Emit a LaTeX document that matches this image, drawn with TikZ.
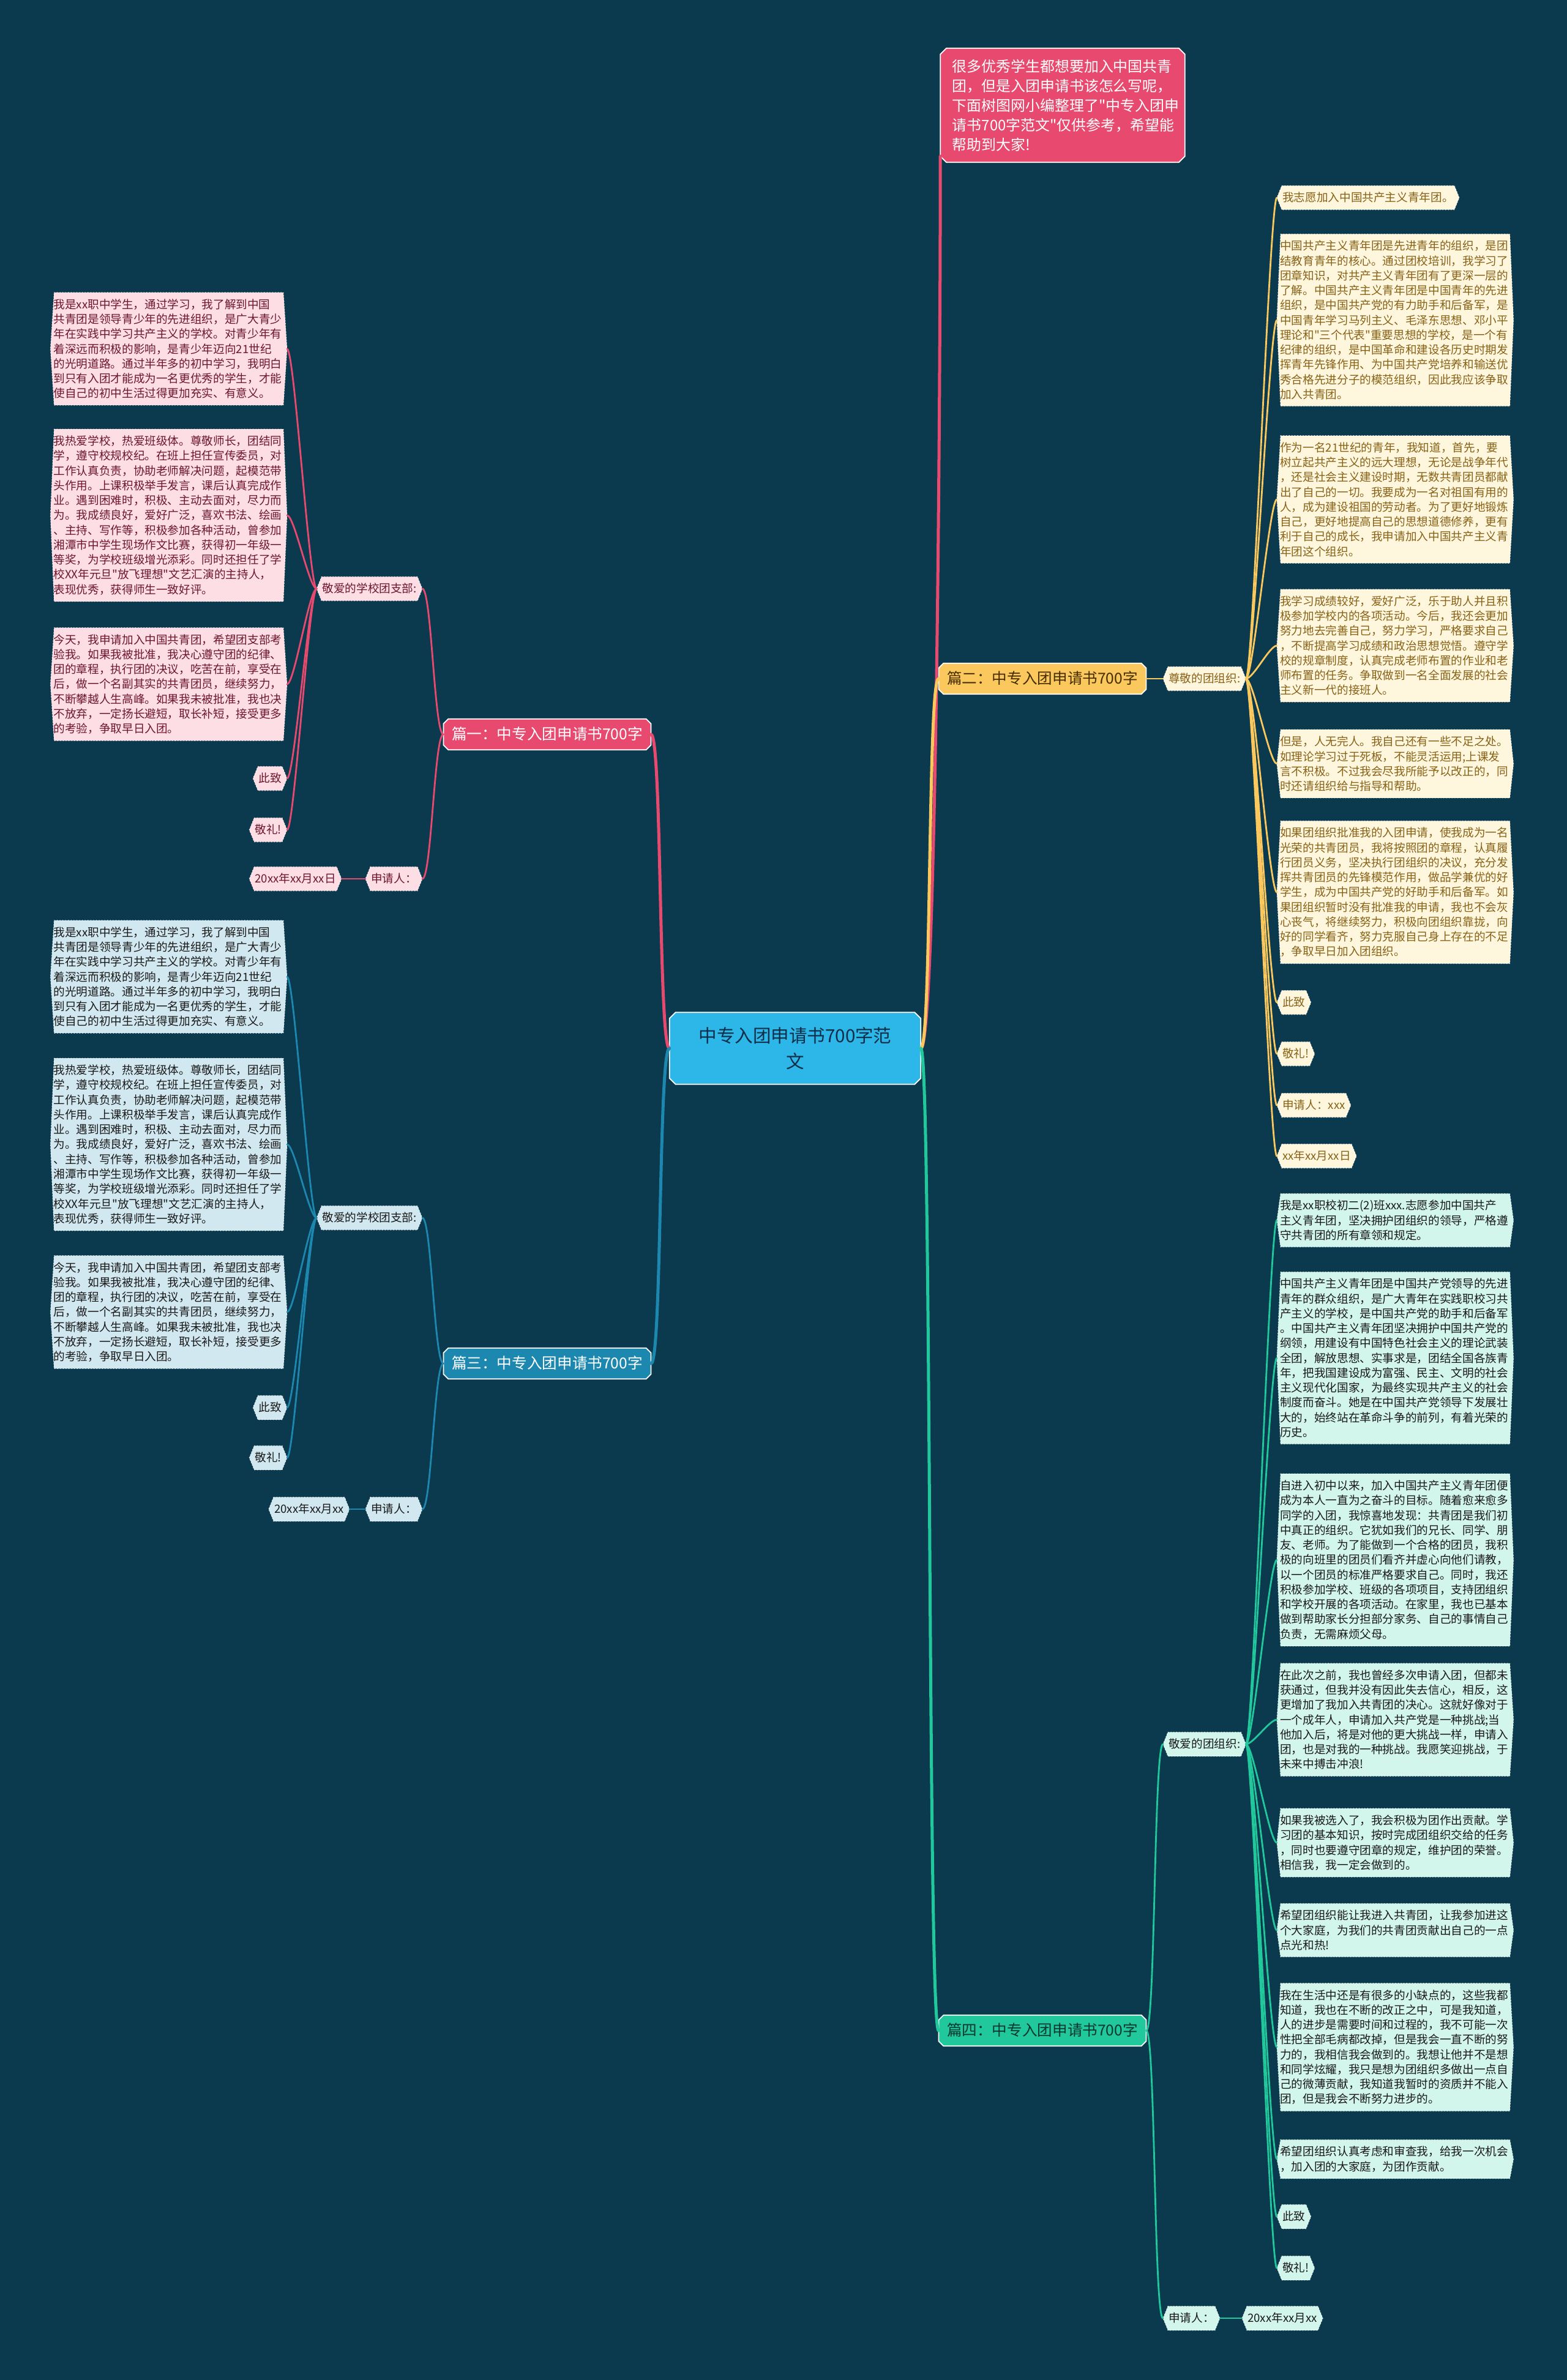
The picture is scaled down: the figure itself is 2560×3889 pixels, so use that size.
\documentclass[tikz,border=0pt]{standalone}
\usepackage{fontspec}
\setmainfont{Noto Sans CJK SC}[Ligatures=TeXOff]
\usepackage{tikz}
\usetikzlibrary{calc, backgrounds}

\definecolor{bgteal}{RGB}{11,58,78}
\definecolor{pinkmain}{RGB}{232,73,110}
\definecolor{pinklight}{RGB}{252,222,228}
\definecolor{pinktext}{RGB}{110,22,48}
\definecolor{yelmain}{RGB}{250,200,92}
\definecolor{yellight}{RGB}{255,246,222}
\definecolor{yeltext}{RGB}{135,98,22}
\definecolor{yeldark}{RGB}{70,45,0}
\definecolor{bluemain}{RGB}{28,135,175}
\definecolor{bluelight}{RGB}{210,232,240}
\definecolor{greenmain}{RGB}{32,200,155}
\definecolor{greenlight}{RGB}{210,245,236}
\definecolor{greendark}{RGB}{10,55,48}
\definecolor{rootblue}{RGB}{44,183,232}
\definecolor{rootink}{RGB}{15,45,70}
\definecolor{darkink}{RGB}{25,25,25}

% hexagon behind a node, tips at west and east
\newcommand{\hexbox}[3]{%
  \filldraw[fill=#2, draw=white, densely dotted, line width=0.3pt]
    ($(#1.north west)+(#3,0)$) -- ($(#1.north east)+(-#3,0)$) -- (#1.east)
    -- ($(#1.south east)+(-#3,0)$) -- ($(#1.south west)+(#3,0)$) -- (#1.west) -- cycle;}
% octagon behind a node
\newcommand{\octbox}[3]{%
  \filldraw[fill=#2, draw=white!85, line width=0.5pt]
    ($(#1.north west)+(#3,0)$) -- ($(#1.north east)+(-#3,0)$) -- ($(#1.north east)+(0,#3)$)
    -- ($(#1.south east)+(0,-#3)$) -- ($(#1.south east)+(-#3,0)$) -- ($(#1.south west)+(#3,0)$)
    -- ($(#1.south west)+(0,-#3)$) -- ($(#1.north west)+(0,#3)$) -- cycle;}

% texts shared by the two left branches
\newcommand{\txtintro}{我是xx职中学生，通过学习，我了解到中国\\
共青团是领导青少年的先进组织，是广大青少\\
年在实践中学习共产主义的学校。对青少年有\\
着深远而积极的影响，是青少年迈向21世纪\\
的光明道路。通过半年多的初中学习，我明白\\
到只有入团才能成为一名更优秀的学生，才能\\
使自己的初中生活过得更加充实、有意义。}
\newcommand{\txtself}{我热爱学校，热爱班级体。尊敬师长，团结同\\
学，遵守校规校纪。在班上担任宣传委员，对\\
工作认真负责，协助老师解决问题，起模范带\\
头作用。上课积极举手发言，课后认真完成作\\
业。遇到困难时，积极、主动去面对，尽力而\\
为。我成绩良好，爱好广泛，喜欢书法、绘画\\
、主持、写作等，积极参加各种活动，曾参加\\
湘潭市中学生现场作文比赛，获得初一年级一\\
等奖，为学校班级增光添彩。同时还担任了学\\
校XX年元旦"放飞理想"文艺汇演的主持人，\\
表现优秀，获得师生一致好评。}
\newcommand{\txtapply}{今天，我申请加入中国共青团，希望团支部考\\
验我。如果我被批准，我决心遵守团的纪律、\\
团的章程，执行团的决议，吃苦在前，享受在\\
后，做一个名副其实的共青团员，继续努力，\\
不断攀越人生高峰。如果我未被批准，我也决\\
不放弃，一定扬长避短，取长补短，接受更多\\
的考验，争取早日入团。}

\begin{document}
\begin{tikzpicture}[
  x=0.01cm, y=-0.01cm,
  box/.style={align=left, text width=3.76cm, inner xsep=0.045cm, inner ysep=0.1cm,
              font=\fontsize{5.3}{6.9}\selectfont},
  tag/.style={inner xsep=0.085cm, inner ysep=0.09cm, text height=0.165cm,
              text depth=0.035cm, font=\fontsize{5.3}{6.9}\selectfont},
  topic/.style={inner xsep=0.13cm, inner ysep=0.115cm, text height=0.215cm,
                text depth=0.045cm, font=\fontsize{7}{9}\selectfont},
  root/.style={align=center, minimum width=4.09cm, minimum height=1.16cm,
               text=rootink, font=\fontsize{8.4}{12}\selectfont},
  desc/.style={align=left, text width=3.6cm, inner xsep=0.19cm, minimum height=1.85cm,
               text=white, font=\fontsize{6.8}{9.1}\selectfont},
  trunk/.style={line width=0.05cm, line cap=round},
  link/.style={line width=0.028cm, line cap=round}
]
  \useasboundingbox (0,0) rectangle (2560,3889);

  % centre
  \node[root] (root) at (1299,1713) {中专入团申请书700字范\\文};
  \node[desc] (desc) at (1736,172) {很多优秀学生都想要加入中国共青\\团，但是入团申请书该怎么写呢，\\下面树图网小编整理了"中专入团申\\请书700字范文"仅供参考，希望能\\帮助到大家!};

  % branches
  \node[topic, text=white] (b1) at (894,1200) {篇一：中专入团申请书700字};
  \node[topic, text=yeldark] (b2) at (1703,1109) {篇二：中专入团申请书700字};
  \node[topic, text=white] (b3) at (894,2228) {篇三：中专入团申请书700字};
  \node[topic, text=greendark] (b4) at (1703,3318) {篇四：中专入团申请书700字};

  % branch one (left, pink)
  \node[tag, text=pinktext, anchor=east] (pa) at (690,962) {敬爱的学校团支部:};
  \node[tag, text=pinktext, anchor=east] (pr) at (690,1436) {申请人：};
  \node[tag, text=pinktext, anchor=east] (pd) at (558,1436) {20xx年xx月xx日};
  \node[box, text=pinktext, anchor=east] (p1) at (469,570) {\txtintro};
  \node[box, text=pinktext, anchor=east] (p2) at (469,842) {\txtself};
  \node[box, text=pinktext, anchor=east] (p3) at (469,1118) {\txtapply};
  \node[tag, text=pinktext, anchor=east] (p4) at (469,1272) {此致};
  \node[tag, text=pinktext, anchor=east] (p5) at (469,1356) {敬礼!};

  % branch three (left, blue)
  \node[tag, text=darkink, anchor=east] (qa) at (690,1990) {敬爱的学校团支部:};
  \node[tag, text=darkink, anchor=east] (qr) at (690,2466) {申请人：};
  \node[tag, text=darkink, anchor=east] (qd) at (571,2466) {20xx年xx月xx};
  \node[box, text=darkink, anchor=east] (q1) at (469,1596) {\txtintro};
  \node[box, text=darkink, anchor=east] (q2) at (469,1870) {\txtself};
  \node[box, text=darkink, anchor=east] (q3) at (469,2144) {\txtapply};
  \node[tag, text=darkink, anchor=east] (q4) at (469,2300) {此致};
  \node[tag, text=darkink, anchor=east] (q5) at (469,2382) {敬礼!};

  % branch two (right, yellow)
  \node[tag, text=yeltext, anchor=west] (ya) at (1900,1109) {尊敬的团组织:};
  \node[tag, text=yeltext, anchor=west] (y1) at (2086,323) {我志愿加入中国共产主义青年团。};
  \node[box, text=yeltext, anchor=west] (y2) at (2086,523) {中国共产主义青年团是先进青年的组织，是团\\
结教育青年的核心。通过团校培训，我学习了\\
团章知识，对共产主义青年团有了更深一层的\\
了解。中国共产主义青年团是中国青年的先进\\
组织，是中国共产党的有力助手和后备军，是\\
中国青年学习马列主义、毛泽东思想、邓小平\\
理论和"三个代表"重要思想的学校，是一个有\\
纪律的组织，是中国革命和建设各历史时期发\\
挥青年先锋作用、为中国共产党培养和输送优\\
秀合格先进分子的模范组织，因此我应该争取\\
加入共青团。};
  \node[box, text=yeltext, anchor=west] (y3) at (2086,816) {作为一名21世纪的青年，我知道，首先，要\\
树立起共产主义的远大理想，无论是战争年代\\
，还是社会主义建设时期，无数共青团员都献\\
出了自己的一切。我要成为一名对祖国有用的\\
人，成为建设祖国的劳动者。为了更好地锻炼\\
自己，更好地提高自己的思想道德修养，更有\\
利于自己的成长，我申请加入中国共产主义青\\
年团这个组织。};
  \node[box, text=yeltext, anchor=west] (y4) at (2086,1055) {我学习成绩较好，爱好广泛，乐于助人并且积\\
极参加学校内的各项活动。今后，我还会更加\\
努力地去完善自己，努力学习，严格要求自己\\
，不断提高学习成绩和政治思想觉悟。遵守学\\
校的规章制度，认真完成老师布置的作业和老\\
师布置的任务。争取做到一名全面发展的社会\\
主义新一代的接班人。};
  \node[box, text=yeltext, anchor=west] (y5) at (2086,1248) {但是，人无完人。我自己还有一些不足之处。\\
如理论学习过于死板，不能灵活运用;上课发\\
言不积极。不过我会尽我所能予以改正的，同\\
时还请组织给与指导和帮助。};
  \node[box, text=yeltext, anchor=west] (y6) at (2086,1458) {如果团组织批准我的入团申请，使我成为一名\\
光荣的共青团员，我将按照团的章程，认真履\\
行团员义务，坚决执行团组织的决议，充分发\\
挥共青团员的先锋模范作用，做品学兼优的好\\
学生，成为中国共产党的好助手和后备军。如\\
果团组织暂时没有批准我的申请，我也不会灰\\
心丧气，将继续努力，积极向团组织靠拢，向\\
好的同学看齐，努力克服自己身上存在的不足\\
，争取早日加入团组织。};
  \node[tag, text=yeltext, anchor=west] (y7) at (2086,1638) {此致};
  \node[tag, text=yeltext, anchor=west] (y8) at (2086,1722) {敬礼!};
  \node[tag, text=yeltext, anchor=west] (y9) at (2086,1806) {申请人：xxx};
  \node[tag, text=yeltext, anchor=west] (y10) at (2086,1889) {xx年xx月xx日};

  % branch four (right, green)
  \node[tag, text=darkink, anchor=west] (ga) at (1900,2850) {敬爱的团组织:};
  \node[tag, text=darkink, anchor=west] (gr) at (1900,3788) {申请人：};
  \node[tag, text=darkink, anchor=west] (gd) at (2029,3788) {20xx年xx月xx};
  \node[box, text=darkink, anchor=west] (g1) at (2086,1994) {我是xx职校初二(2)班xxx.志愿参加中国共产\\
主义青年团，坚决拥护团组织的领导，严格遵\\
守共青团的所有章领和规定。};
  \node[box, text=darkink, anchor=west] (g2) at (2086,2219) {中国共产主义青年团是中国共产党领导的先进\\
青年的群众组织，是广大青年在实践职校习共\\
产主义的学校，是中国共产党的助手和后备军\\
。中国共产主义青年团坚决拥护中国共产党的\\
纲领，用建设有中国特色社会主义的理论武装\\
全团，解放思想、实事求是，团结全国各族青\\
年，把我国建设成为富强、民主、文明的社会\\
主义现代化国家，为最终实现共产主义的社会\\
制度而奋斗。她是在中国共产党领导下发展壮\\
大的，始终站在革命斗争的前列，有着光荣的\\
历史。};
  \node[box, text=darkink, anchor=west] (g3) at (2086,2549) {自进入初中以来，加入中国共产主义青年团便\\
成为本人一直为之奋斗的目标。随着愈来愈多\\
同学的入团，我惊喜地发现：共青团是我们初\\
中真正的组织。它犹如我们的兄长、同学、朋\\
友、老师。为了能做到一个合格的团员，我积\\
极的向班里的团员们看齐并虚心向他们请教，\\
以一个团员的标准严格要求自己。同时，我还\\
积极参加学校、班级的各项项目，支持团组织\\
和学校开展的各项活动。在家里，我也已基本\\
做到帮助家长分担部分家务、自己的事情自己\\
负责，无需麻烦父母。};
  \node[box, text=darkink, anchor=west] (g4) at (2086,2810) {在此次之前，我也曾经多次申请入团，但都未\\
获通过，但我并没有因此失去信心，相反，这\\
更增加了我加入共青团的决心。这就好像对于\\
一个成年人，申请加入共产党是一种挑战;当\\
他加入后，将是对他的更大挑战一样，申请入\\
团，也是对我的一种挑战。我愿笑迎挑战，于\\
未来中搏击冲浪!};
  \node[box, text=darkink, anchor=west] (g5) at (2086,3011) {如果我被选入了，我会积极为团作出贡献。学\\
习团的基本知识，按时完成团组织交给的任务\\
，同时也要遵守团章的规定，维护团的荣誉。\\
相信我，我一定会做到的。};
  \node[box, text=darkink, anchor=west] (g6) at (2086,3154) {希望团组织能让我进入共青团，让我参加进这\\
个大家庭，为我们的共青团贡献出自己的一点\\
点光和热!};
  \node[box, text=darkink, anchor=west] (g7) at (2086,3345) {我在生活中还是有很多的小缺点的，这些我都\\
知道，我也在不断的改正之中，可是我知道，\\
人的进步是需要时间和过程的，我不可能一次\\
性把全部毛病都改掉，但是我会一直不断的努\\
力的，我相信我会做到的。我想让他并不是想\\
和同学炫耀，我只是想为团组织多做出一点自\\
己的微薄贡献，我知道我暂时的资质并不能入\\
团，但是我会不断努力进步的。};
  \node[box, text=darkink, anchor=west] (g8) at (2086,3528) {希望团组织认真考虑和审查我，给我一次机会\\
，加入团的大家庭，为团作贡献。};
  \node[tag, text=darkink, anchor=west] (g9) at (2086,3622) {此致};
  \node[tag, text=darkink, anchor=west] (g10) at (2086,3706) {敬礼!};

  % wires from the centre
  \draw[trunk, pinkmain] (root.east) .. controls +(25,0) and +(0,400) .. ($(desc.south west)+(0,-10)$);
  \draw[trunk, yelmain] (root.east) .. controls +(18,0) and +(-18,0) .. (b2.west);
  \draw[trunk, greenmain] (root.east) .. controls +(18,0) and +(-18,0) .. (b4.west);
  \draw[trunk, pinkmain] (root.west) .. controls +(-18,0) and +(18,0) .. (b1.east);
  \draw[trunk, bluemain] (root.west) .. controls +(-18,0) and +(18,0) .. (b3.east);

  % wires of the branches
  \draw[link, pinkmain] (b1.west) .. controls +(-15,0) and +(15,0) .. (pa.east);
  \draw[link, pinkmain] (b1.west) .. controls +(-15,0) and +(15,0) .. (pr.east);
  \draw[link, pinkmain] (pr.west) -- (pd.east);
  \foreach \i in {1,...,5}
    \draw[link, pinkmain] (pa.west) .. controls +(-12,0) and +(12,0) .. (p\i.east);

  \draw[link, bluemain] (b3.west) .. controls +(-15,0) and +(15,0) .. (qa.east);
  \draw[link, bluemain] (b3.west) .. controls +(-15,0) and +(15,0) .. (qr.east);
  \draw[link, bluemain] (qr.west) -- (qd.east);
  \foreach \i in {1,...,5}
    \draw[link, bluemain] (qa.west) .. controls +(-12,0) and +(12,0) .. (q\i.east);

  \draw[link, yelmain] (b2.east) -- (ya.west);
  \foreach \i in {1,...,10}
    \draw[link, yelmain] (ya.east) .. controls +(12,0) and +(-12,0) .. (y\i.west);

  \draw[link, greenmain] (b4.east) .. controls +(15,0) and +(-15,0) .. (ga.west);
  \draw[link, greenmain] (b4.east) .. controls +(15,0) and +(-15,0) .. (gr.west);
  \draw[link, greenmain] (gr.east) -- (gd.west);
  \foreach \i in {1,...,10}
    \draw[link, greenmain] (ga.east) .. controls +(12,0) and +(-12,0) .. (g\i.west);

  % boxes behind the texts
  \begin{scope}[on background layer]
    \fill[bgteal] (0,0) rectangle (2560,3889);
    \octbox{root}{rootblue}{10}
    \octbox{desc}{pinkmain}{10}
    \octbox{b1}{pinkmain}{8}
    \octbox{b2}{yelmain}{8}
    \octbox{b3}{bluemain}{8}
    \octbox{b4}{greenmain}{8}
    \foreach \n in {p1,p2,p3} {\hexbox{\n}{pinklight}{6}}
    \foreach \n in {p4,p5,pa,pr,pd} {\hexbox{\n}{pinklight}{8}}
    \foreach \n in {q1,q2,q3} {\hexbox{\n}{bluelight}{6}}
    \foreach \n in {q4,q5,qa,qr,qd} {\hexbox{\n}{bluelight}{8}}
    \foreach \n in {y2,y3,y4,y5,y6} {\hexbox{\n}{yellight}{6}}
    \foreach \n in {y1,y7,y8,y9,y10,ya} {\hexbox{\n}{yellight}{8}}
    \foreach \n in {g1,g2,g3,g4,g5,g6,g7,g8} {\hexbox{\n}{greenlight}{6}}
    \foreach \n in {g9,g10,ga,gr,gd} {\hexbox{\n}{greenlight}{8}}
  \end{scope}
\end{tikzpicture}
\end{document}
